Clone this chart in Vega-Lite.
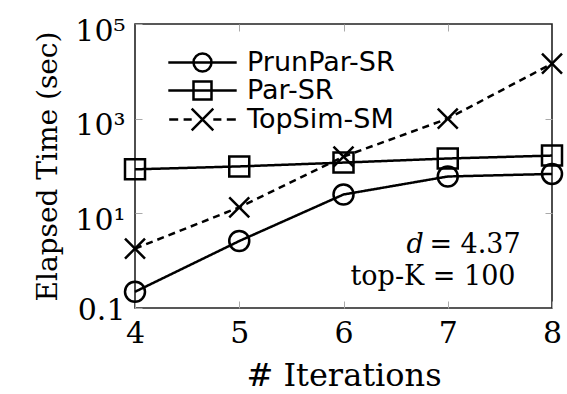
{
  "$schema": "https://vega.github.io/schema/vega-lite/v6.json",
  "width": 417,
  "height": 284,
  "autosize": "none",
  "padding": {"left": 135, "top": 24, "right": 15, "bottom": 86},
  "background": "white",
  "config": {
    "view": {"stroke": "#222222", "strokeWidth": 1.6},
    "axis": {
      "grid": false,
      "domain": false,
      "tickColor": "#aaaaaa",
      "tickSize": -7,
      "tickWidth": 1,
      "labelColor": "black",
      "titleColor": "black",
      "labelFont": "DejaVu Serif",
      "titleFont": "DejaVu Serif",
      "titleFontWeight": "normal",
      "labelFlush": false,
      "labelOverlap": false
    },
    "legend": {
      "orient": "none",
      "legendX": 54,
      "legendY": 25,
      "labelFont": "DejaVu Sans",
      "labelFontSize": 27,
      "labelColor": "black",
      "labelOffset": 31,
      "symbolSize": 324,
      "symbolStrokeWidth": 2.5,
      "symbolStrokeColor": "black",
      "symbolFillColor": "transparent",
      "symbolOpacity": 1,
      "rowPadding": -2,
      "padding": 0
    }
  },
  "datasets": {
    "times": [
      {"it": 4, "series": "PrunPar-SR", "t": 0.22},
      {"it": 5, "series": "PrunPar-SR", "t": 2.6},
      {"it": 6, "series": "PrunPar-SR", "t": 25},
      {"it": 7, "series": "PrunPar-SR", "t": 60},
      {"it": 8, "series": "PrunPar-SR", "t": 68},
      {"it": 4, "series": "Par-SR", "t": 85},
      {"it": 5, "series": "Par-SR", "t": 98},
      {"it": 6, "series": "Par-SR", "t": 118},
      {"it": 7, "series": "Par-SR", "t": 144},
      {"it": 8, "series": "Par-SR", "t": 166},
      {"it": 4, "series": "TopSim-SM", "t": 1.8},
      {"it": 5, "series": "TopSim-SM", "t": 13.4},
      {"it": 6, "series": "TopSim-SM", "t": 158},
      {"it": 7, "series": "TopSim-SM", "t": 1000},
      {"it": 8, "series": "TopSim-SM", "t": 14500}
    ]
  },
  "layer": [
    {
      "data": {"name": "times"},
      "mark": {"type": "line", "color": "black", "strokeWidth": 2.5},
      "encoding": {
        "x": {
          "field": "it", "type": "quantitative",
          "scale": {"domain": [4, 8], "nice": false, "zero": false},
          "axis": {
            "orient": "bottom",
            "values": [4, 5, 6, 7, 8],
            "format": "d",
            "labelFontSize": 30,
            "labelPadding": 17,
            "title": "# Iterations",
            "titleFontSize": 32,
            "titlePadding": 12
          }
        },
        "y": {
          "field": "t", "type": "quantitative",
          "scale": {"type": "log", "domain": [0.1, 100000], "nice": false},
          "axis": {
            "orient": "left",
            "values": [0.1, 10, 1000, 100000],
            "labelExpr": "datum.value < 1 ? '0.1' : datum.value < 100 ? '10¹' : datum.value < 10000 ? '10³' : '10⁵'",
            "labelFontSize": 30,
            "labelPadding": 17,
            "labelOffset": {"condition": {"test": "datum.value >= 10", "value": 7}, "value": 2},
            "title": "Elapsed Time (sec)",
            "titleFontSize": 28,
            "titlePadding": 12
          }
        },
        "detail": {"field": "series"},
        "strokeDash": {
          "field": "series",
          "scale": {"domain": ["PrunPar-SR", "Par-SR", "TopSim-SM"], "range": [[1, 0], [1, 0], [7, 5]]},
          "legend": null
        }
      }
    },
    {
      "data": {"name": "times"},
      "mark": {"type": "point", "filled": false, "color": "black", "strokeWidth": 2.5, "size": 400, "opacity": 1},
      "encoding": {
        "x": {
          "field": "it", "type": "quantitative",
          "axis": {"orient": "top", "values": [5, 6, 7], "labels": false, "title": null}
        },
        "y": {
          "field": "t", "type": "quantitative",
          "axis": {"orient": "right", "values": [10, 1000], "labels": false, "title": null}
        },
        "shape": {
          "field": "series",
          "scale": {"domain": ["PrunPar-SR", "Par-SR", "TopSim-SM"], "range": ["circle", "square", "M-1,-1L1,1M-1,1L1,-1"]},
          "legend": null
        }
      }
    },
    {
      "data": {"name": "times"},
      "mark": {"type": "point", "filled": false, "color": "black", "strokeWidth": 2.5, "size": 324, "opacity": 0},
      "encoding": {
        "x": {"field": "it", "type": "quantitative", "axis": null},
        "y": {"field": "t", "type": "quantitative", "axis": null},
        "shape": {
          "field": "series",
          "scale": {
            "domain": ["PrunPar-SR", "Par-SR", "TopSim-SM"],
            "range": [
              "M-3.8,0L3.8,0M-1,0A1,1 0 1,1 1,0A1,1 0 1,1 -1,0",
              "M-3.8,0L3.8,0M-1,-1L1,-1L1,1L-1,1Z",
              "M-3.7,0L-2.7,0M-2.1,0L-1.2,0M-1.2,-1.2L1.2,1.2M-1.2,1.2L1.2,-1.2M1.2,0L2.1,0M2.7,0L3.7,0"
            ]
          },
          "legend": {"title": null, "symbolOpacity": 1}
        }
      }
    },
    {
      "data": {"values": [{"label": "d"}]},
      "mark": {"type": "text", "font": "DejaVu Serif", "fontStyle": "italic", "fontSize": 27, "align": "right", "baseline": "middle", "color": "black"},
      "encoding": {
        "x": {"datum": 6.77, "type": "quantitative", "axis": null},
        "y": {"datum": 2.14, "type": "quantitative", "axis": null},
        "text": {"field": "label"}
      }
    },
    {
      "data": {"values": [{"label": "= 4.37"}]},
      "mark": {"type": "text", "font": "DejaVu Serif", "fontSize": 27, "align": "right", "baseline": "middle", "color": "black"},
      "encoding": {
        "x": {"datum": 7.70, "type": "quantitative", "axis": null},
        "y": {"datum": 2.14, "type": "quantitative", "axis": null},
        "text": {"field": "label"}
      }
    },
    {
      "data": {"values": [{"label": "top-K = 100"}]},
      "mark": {"type": "text", "font": "DejaVu Serif", "fontSize": 27, "align": "right", "baseline": "middle", "color": "black"},
      "encoding": {
        "x": {"datum": 7.65, "type": "quantitative", "axis": null},
        "y": {"datum": 0.45, "type": "quantitative", "axis": null},
        "text": {"field": "label"}
      }
    }
  ],
  "resolve": {
    "scale": {"shape": "independent"},
    "legend": {"shape": "independent"},
    "axis": {"x": "independent", "y": "independent"}
  }
}
